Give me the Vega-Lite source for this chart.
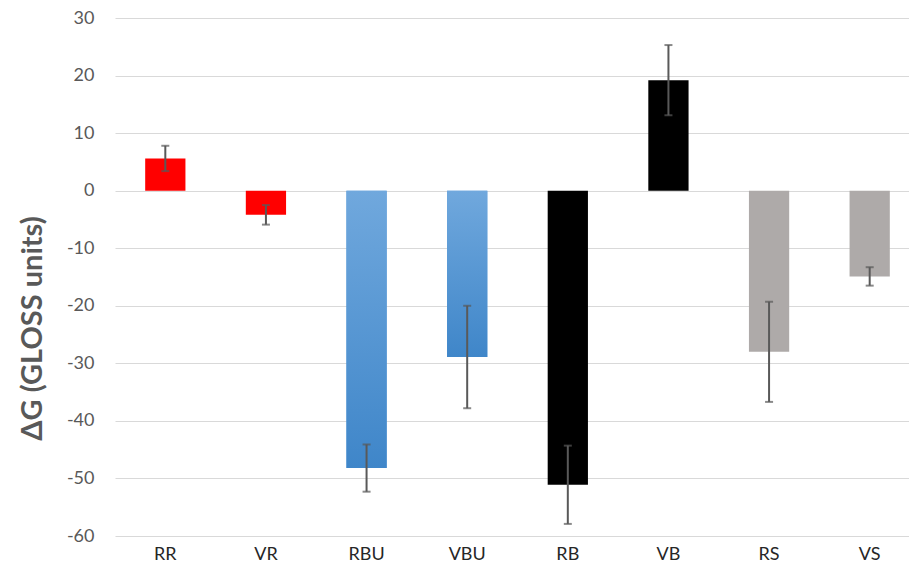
{
  "$schema": "https://vega.github.io/schema/vega-lite/v6.json",
  "autosize": {"type": "none"},
  "width": 794,
  "height": 518,
  "padding": {"left": 115, "top": 18, "right": 0, "bottom": 39},
  "background": "white",
  "config": {
    "view": {"stroke": null},
    "font": "Lato"
  },
  "data": {
    "values": [
      {"treatment": "RR", "group": "R", "value": 5.6, "err": 2.2},
      {"treatment": "VR", "group": "R", "value": -4.2, "err": 1.7},
      {"treatment": "RBU", "group": "BU", "value": -48.2, "err": 4.1},
      {"treatment": "VBU", "group": "BU", "value": -28.9, "err": 8.9},
      {"treatment": "RB", "group": "B", "value": -51.1, "err": 6.8},
      {"treatment": "VB", "group": "B", "value": 19.2, "err": 6.1},
      {"treatment": "RS", "group": "S", "value": -28.0, "err": 8.7},
      {"treatment": "VS", "group": "S", "value": -14.9, "err": 1.6}
    ]
  },
  "encoding": {
    "x": {
      "field": "treatment",
      "type": "nominal",
      "sort": null,
      "scale": {"range": [0, 805], "paddingInner": 0.6, "paddingOuter": 0.3},
      "axis": {
        "title": null,
        "labelAngle": 0,
        "domain": false,
        "ticks": false,
        "labelFont": "Lato",
        "labelFontSize": 18,
        "labelColor": "#262626",
        "labelPadding": 9
      }
    }
  },
  "layer": [
    {
      "mark": {"type": "bar"},
      "encoding": {
        "y": {
          "field": "value",
          "type": "quantitative",
          "title": "ΔG (GLOSS units)",
          "scale": {"domain": [-60, 30], "nice": false, "zero": false},
          "axis": {
            "titleFont": "Lato",
            "titleFontWeight": "bold",
            "titleFontSize": 29,
            "titleColor": "#595959",
            "titleAngle": -90,
            "titleX": -83,
            "titleY": 310,
            "titleAlign": "center",
            "titleBaseline": "middle",
            "values": [-60, -50, -40, -30, -20, -10, 0, 10, 20, 30],
            "labelExpr": "'' + datum.value",
            "domain": false,
            "ticks": false,
            "grid": true,
            "gridColor": "#d9d9d9",
            "gridWidth": 1,
            "labelFont": "Lato",
            "labelFontSize": 18,
            "labelColor": "#595959",
            "labelPadding": 21
          }
        },
        "color": {
          "field": "group",
          "type": "nominal",
          "scale": {"domain": ["R", "BU", "B", "S"], "range": ["#ff0000", "#5a9bd9", "#000000", "#aeaaa9"]},
          "legend": null
        }
      }
    },
    {
      "transform": [{"filter": "datum.group === 'BU'"}],
      "mark": {
        "type": "bar",
        "color": {
          "gradient": "linear",
          "x1": 0, "y1": 0, "x2": 0, "y2": 1,
          "stops": [
            {"offset": 0, "color": "#70a8dd"},
            {"offset": 1, "color": "#3f86c9"}
          ]
        }
      },
      "encoding": {
        "y": {"field": "value", "type": "quantitative", "title": "ΔG (GLOSS units)"}
      }
    },
    {
      "mark": {
        "type": "errorbar",
        "ticks": {"size": 8, "thickness": 2, "color": "#595959"},
        "rule": {"strokeWidth": 2, "color": "#595959"}
      },
      "encoding": {
        "y": {"field": "value", "type": "quantitative", "title": "ΔG (GLOSS units)"},
        "yError": {"field": "err"}
      }
    }
  ]
}
